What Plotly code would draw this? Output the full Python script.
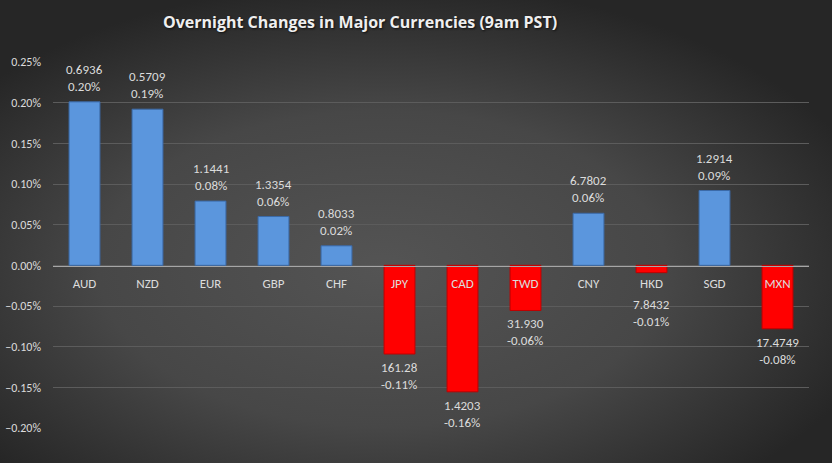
import base64
import plotly.graph_objects as go

currencies = ['AUD', 'NZD', 'EUR', 'GBP', 'CHF', 'JPY', 'CAD', 'TWD', 'CNY', 'HKD', 'SGD', 'MXN']
rates = ['0.6936', '0.5709', '1.1441', '1.3354', '0.8033', '161.28', '1.4203', '31.930',
         '6.7802', '7.8432', '1.2914', '17.4749']
changes = [0.00201, 0.00192, 0.00079, 0.00060, 0.00024, -0.00109, -0.001555, -0.000555,
           0.00064, -0.00009, 0.00092, -0.00078]

FONT = "Calibri, Carlito, Lato, sans-serif"
TXT = "#dcdcdc"

pos_color = "#5b96dd"
neg_color = "#ff0000"
colors = [pos_color if v >= 0 else neg_color for v in changes]
lines = ["#3b6aa8" if v >= 0 else "#c00000" for v in changes]

svg = """<svg xmlns='http://www.w3.org/2000/svg' width='832' height='463' viewBox='0 0 832 463'>
<defs><radialGradient id='g' cx='46%' cy='58%' r='62%'>
<stop offset='0' stop-color='#545454'/><stop offset='0.55' stop-color='#474747'/>
<stop offset='1' stop-color='#262626'/></radialGradient></defs>
<rect width='832' height='463' fill='url(#g)'/></svg>"""
bg_uri = "data:image/svg+xml;base64," + base64.b64encode(svg.encode()).decode()

fig = go.Figure()
fig.add_trace(go.Bar(
    x=currencies, y=changes,
    marker=dict(color=colors, line=dict(color=lines, width=1)),
    width=0.49, hoverinfo="skip",
))

annotations = []
for c, r, v in zip(currencies, rates, changes):
    shift = 6 if v >= 0 else -4
    if c == 'HKD':
        shift = -22  # label sits below the category name in the reference
    annotations.append(dict(
        x=c, y=v, xref="x", yref="y",
        text=f"{r}<br>{v:.2%}", showarrow=False,
        yanchor="bottom" if v >= 0 else "top",
        yshift=shift,
        font=dict(family=FONT, size=13, color=TXT),
    ))

fig.update_layout(
    width=832, height=463,
    margin=dict(l=53, r=23, t=62, b=35, autoexpand=False),
    paper_bgcolor="#3a3a3a", plot_bgcolor="rgba(0,0,0,0)",
    showlegend=False,
    title=dict(text="<b>Overnight Changes in Major Currencies (9am PST)</b>",
               x=360 / 832, xanchor="center", y=1 - 22 / 463, yanchor="middle",
               font=dict(family="Open Sans, sans-serif", size=16, color="#efefef",
                         shadow="1px 1px 2px #111")),
    font=dict(family=FONT, color=TXT),
    images=[dict(source=bg_uri, xref="paper", yref="paper", x=-53 / 756, y=1 + 62 / 366,
                 sizex=832 / 756, sizey=463 / 366, xanchor="left", yanchor="top",
                 sizing="stretch", layer="below")],
    annotations=annotations,
    bargap=0.51,
)
fig.update_xaxes(
    anchor="free", position=162 / 366, automargin=False,
    showline=True, linecolor="#a6a6a6", linewidth=1,
    showgrid=False, ticks="", tickfont=dict(family=FONT, size=13, color=TXT),
    ticklabelstandoff=5, fixedrange=True,
)
fig.update_yaxes(
    range=[-0.002, 0.0025], dtick=0.0005, tickformat=".2%", automargin=False,
    showgrid=True, gridcolor="#5c5c5c", gridwidth=1, zeroline=False,
    tickfont=dict(family=FONT, size=12, color=TXT), ticklabelstandoff=11,
    fixedrange=True,
)

fig.write_html("out.html")
